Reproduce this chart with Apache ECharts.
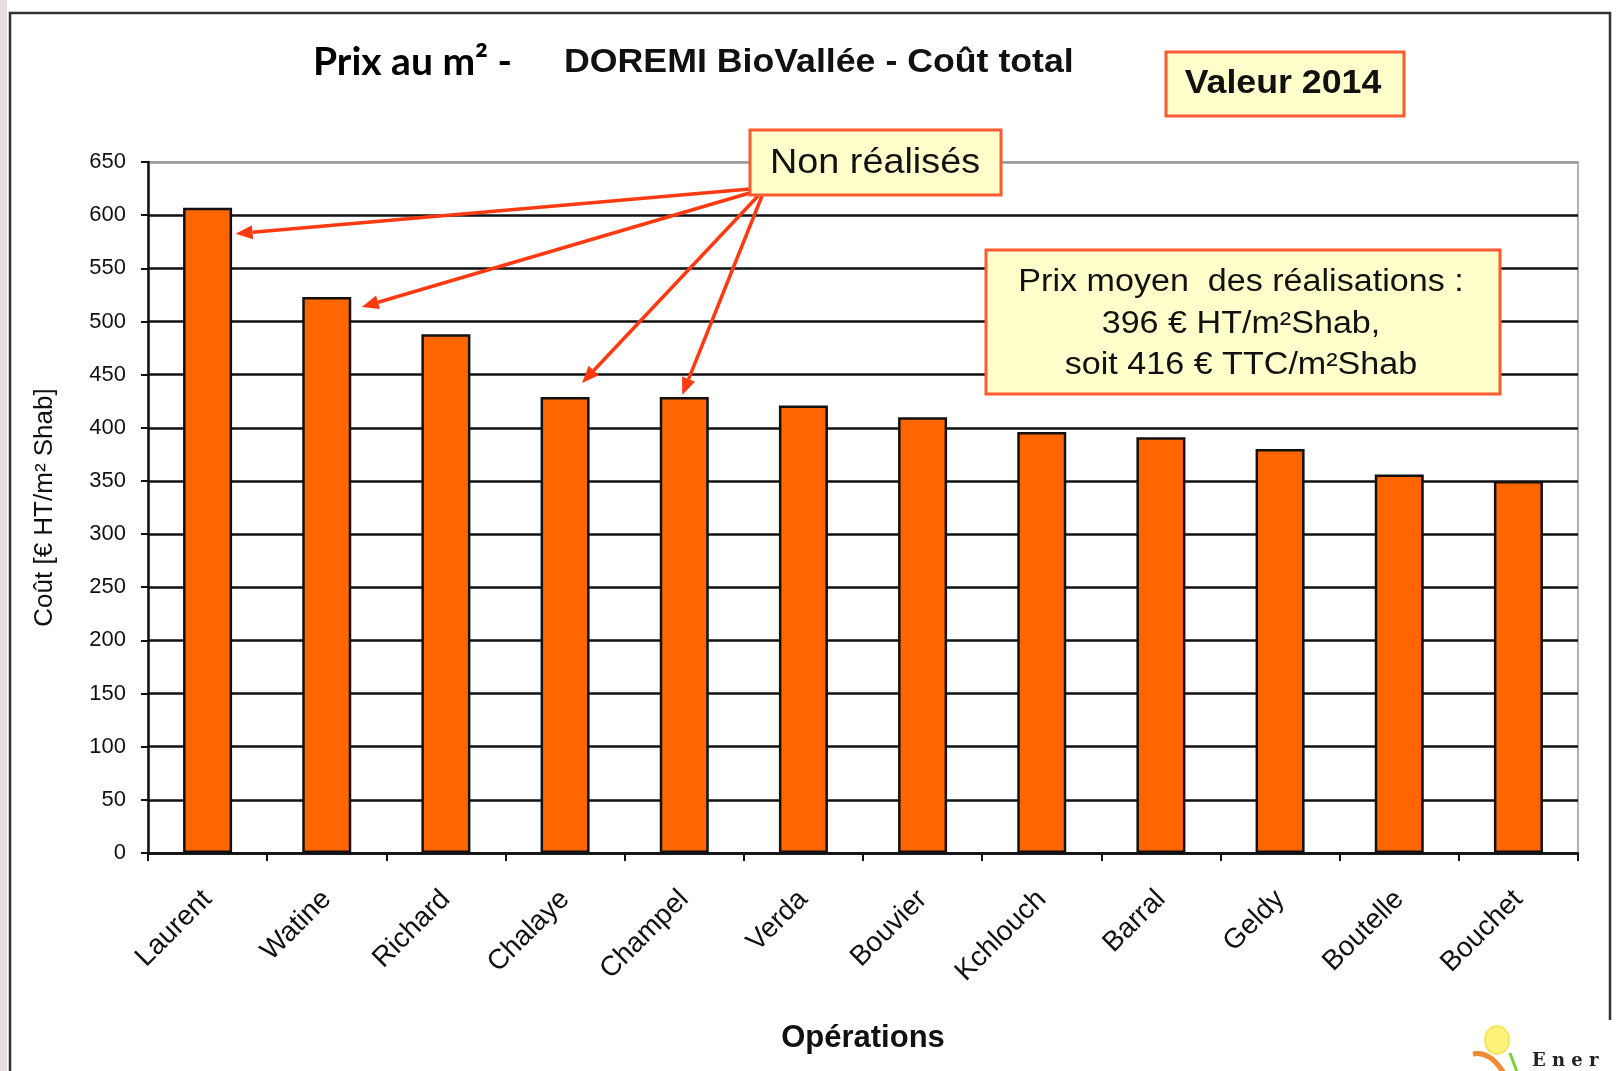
<!DOCTYPE html>
<html>
<head>
<meta charset="utf-8">
<script src="https://cdn.jsdelivr.net/npm/echarts@6/dist/echarts.min.js"></script>
<style>
  html, body { margin: 0; padding: 0; background: #fff; }
  #chart { width: 1622px; height: 1071px; }
</style>
</head>
<body>
<div id="chart"></div>
<script>
  // data
  const operations = ['Laurent', 'Watine', 'Richard', 'Chalaye', 'Champel', 'Verda', 'Bouvier', 'Kchlouch', 'Barral', 'Geldy', 'Boutelle', 'Bouchet'];
  const costs = [607, 523, 488, 429, 429, 421, 410, 396, 391, 380, 356, 350];
  const nonRealises = ['Laurent', 'Watine', 'Chalaye', 'Champel'];
  const yMin = 0, yMax = 650, yStep = 50;
  const moyenLines = ['Prix moyen  des réalisations :', '396 € HT/m²Shab,', 'soit 416 € TTC/m²Shab'];

  // where each arrow lands, relative to the top centre of its bar (px)
  const arrowOffsets = [[28, 26], [35, 10], [17, -14], [-2, -2]];
  const arrowStarts = [[750, 189], [753, 192], [758, 196], [762, 196]];

  const ARIAL = '"Liberation Sans", Arial, sans-serif';
  const RED = '#ff3a12';
  const BOX_FILL = '#ffffcc';
  const BOX_LINE = '#ff5a30';

  const nTicks = (yMax - yMin) / yStep + 1;
  const gridColors = [];
  for (let i = 0; i < nTicks; i++) gridColors.push(i === nTicks - 1 ? '#999' : '#111');

  const chart = echarts.init(document.getElementById('chart'));

  function box(x, y, w, h) {
    return {
      type: 'rect', z: 20,
      shape: { x: x, y: y, width: w, height: h },
      style: { fill: BOX_FILL, stroke: BOX_LINE, lineWidth: 3 }
    };
  }
  // centred text, optionally stretched sideways
  function text(str, x, y, font, sx) {
    return {
      type: 'text', z: 21, x: x, y: y, scaleX: sx || 1,
      style: { text: str, font: font, fill: '#111', align: 'center', verticalAlign: 'middle' }
    };
  }

  const staticGraphics = [
    // grey strip on the left edge and the outer frame
    { type: 'rect', z: 0, shape: { x: 0, y: 0, width: 7, height: 1071 }, style: { fill: '#e6dede' } },
    { type: 'polyline', z: 1, shape: { points: [[10, 1071], [10, 13], [1610, 13], [1610, 1020]] },
      style: { stroke: '#333', lineWidth: 2.5, fill: null } },
    // title
    { type: 'text', z: 21, x: 313, y: 62,
      style: { text: 'Prix au m² -', font: 'bold 39px Lato, "Open Sans", sans-serif', fill: '#000', align: 'left', verticalAlign: 'middle' } },
    { type: 'text', z: 21, x: 564, y: 63, scaleX: 1.05,
      style: { text: 'DOREMI BioVallée - Coût total', font: 'bold 34px ' + ARIAL, fill: '#111', align: 'left', verticalAlign: 'middle' } },
    // boxes
    box(1166, 52, 238, 64),
    text('Valeur 2014', 1283, 84, 'bold 34px ' + ARIAL, 1.05),
    box(750, 130, 251, 65),
    text('Non réalisés', 875, 163, '35px ' + ARIAL, 1.08),
    box(986, 250, 514, 144),
    text(moyenLines[0], 1241, 282, '31px ' + ARIAL, 1.1),
    text(moyenLines[1], 1241, 324, '31px ' + ARIAL, 1.1),
    text(moyenLines[2], 1241, 365, '31px ' + ARIAL, 1.1),
    // small logo, bottom right
    { type: 'ellipse', z: 5, shape: { cx: 1497, cy: 1040, rx: 12, ry: 14 }, style: { fill: '#fff27a', stroke: '#f5e04a', lineWidth: 1.5 } },
    { type: 'bezierCurve', z: 5, shape: { x1: 1473, y1: 1054, x2: 1508, y2: 1080, cpx1: 1492, cpy1: 1050 },
      style: { stroke: '#f08a30', lineWidth: 5, fill: null } },
    { type: 'line', z: 5, shape: { x1: 1510, y1: 1053, x2: 1520, y2: 1080 }, style: { stroke: '#7cd13a', lineWidth: 3 } },
    { type: 'text', z: 5, x: 1532, y: 1061,
      style: { text: 'E n e r', font: 'bold 18px "DejaVu Serif", serif', fill: '#222', align: 'left', verticalAlign: 'middle' } }
  ];

  chart.setOption({
    animation: false,
    backgroundColor: '#fff',
    grid: {
      left: 148, top: 162, right: 44, bottom: 218,
      show: true, borderColor: '#999', borderWidth: 1.5, backgroundColor: 'transparent'
    },
    xAxis: {
      type: 'category',
      data: operations,
      name: 'Opérations',
      nameLocation: 'middle',
      nameGap: 170,
      nameTextStyle: { fontFamily: ARIAL, fontWeight: 'bold', fontSize: 31, color: '#111' },
      axisLine: { lineStyle: { color: '#111', width: 2.5 } },
      axisTick: { show: true, length: 8, lineStyle: { color: '#111', width: 2 } },
      axisLabel: { rotate: 45, margin: 42, fontFamily: ARIAL, fontSize: 28, color: '#111' }
    },
    yAxis: {
      type: 'value',
      min: yMin, max: yMax, interval: yStep,
      name: 'Coût [€ HT/m² Shab]',
      nameLocation: 'middle',
      nameGap: 90,
      nameRotate: 90,
      nameTextStyle: { fontFamily: ARIAL, fontSize: 26, color: '#111' },
      axisLine: { show: true, lineStyle: { color: '#111', width: 2.5 } },
      axisTick: { show: true, length: 7, lineStyle: { color: '#111', width: 2 } },
      axisLabel: { margin: 22, fontFamily: ARIAL, fontSize: 22, color: '#111' },
      splitLine: { show: true, lineStyle: { color: gridColors, width: 2.5 } }
    },
    series: [{
      type: 'bar',
      data: costs,
      barWidth: 49,
      itemStyle: { color: '#ff6600', borderColor: '#111', borderWidth: 2.5 },
      z: 3
    }],
    graphic: staticGraphics
  });

  // arrows from the "Non réalisés" box to the bars
  const arrowGraphics = [];
  nonRealises.forEach(function (name, k) {
    const i = operations.indexOf(name);
    const top = chart.convertToPixel({ seriesIndex: 0 }, [i, costs[i]]);
    const ex = top[0] + arrowOffsets[k][0];
    const ey = top[1] + arrowOffsets[k][1];
    const sx = arrowStarts[k][0], sy = arrowStarts[k][1];
    const ang = Math.atan2(ey - sy, ex - sx);
    const L = 17, W = 7;
    const bx = ex - L * Math.cos(ang), by = ey - L * Math.sin(ang);
    arrowGraphics.push({
      type: 'line', z: 15,
      shape: { x1: sx, y1: sy, x2: bx, y2: by },
      style: { stroke: RED, lineWidth: 3.5 }
    });
    arrowGraphics.push({
      type: 'polygon', z: 15,
      shape: { points: [
        [ex, ey],
        [bx - W * Math.sin(ang), by + W * Math.cos(ang)],
        [bx + W * Math.sin(ang), by - W * Math.cos(ang)]
      ] },
      style: { fill: RED }
    });
  });
  chart.setOption({ graphic: staticGraphics.concat(arrowGraphics) });
</script>
</body>
</html>
